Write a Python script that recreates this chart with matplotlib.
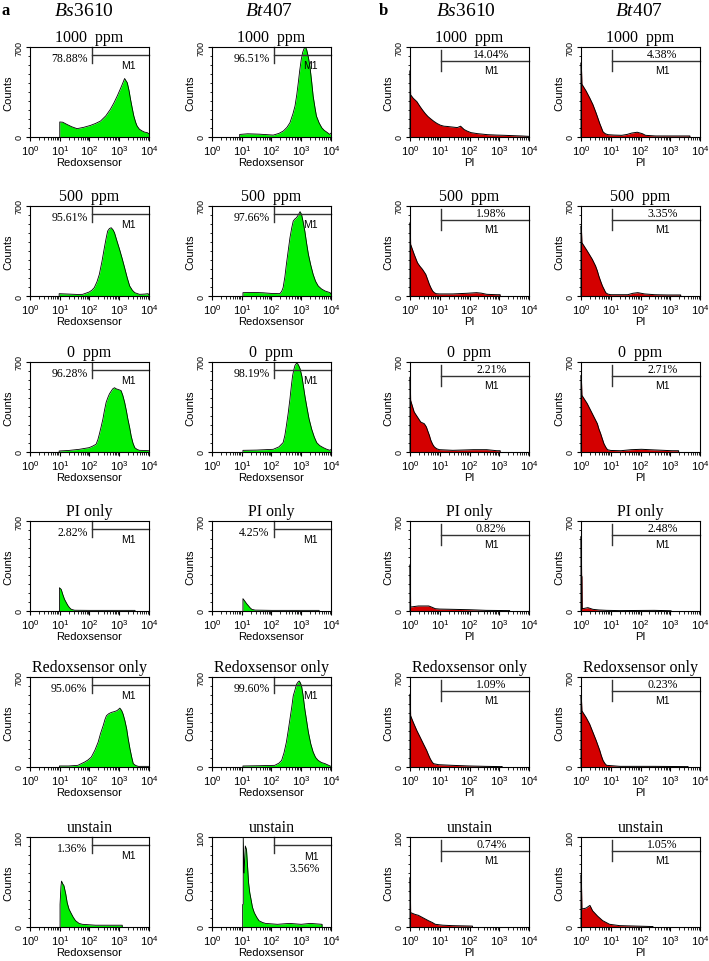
import numpy as np
import matplotlib
matplotlib.use("Agg")
import matplotlib.pyplot as plt
from matplotlib.ticker import LogLocator, MultipleLocator, NullFormatter

plt.rcParams["font.family"] = "Liberation Sans"
plt.rcParams["mathtext.fontset"] = "custom"
plt.rcParams["mathtext.rm"] = "Liberation Sans"
plt.rcParams["mathtext.it"] = "Liberation Serif:italic"

# ---- panel a : Redoxsensor histograms (log10 channel, counts) ----
bs_1000_redox_log = [1.0, 1.0, 1.1, 1.24, 1.4, 1.58, 1.8, 2.03, 2.2, 2.37, 2.55, 2.7, 2.82, 2.93, 3.02, 3.1,
                     3.18, 3.27, 3.33, 3.38, 3.44, 3.49, 3.55, 3.6, 3.68, 3.77, 3.85, 3.94, 4.0]
bs_1000_redox_cnt = [0, 117, 115, 98, 80, 65, 75, 90, 105, 124, 165, 215, 265, 318, 365, 409,
                     455, 422, 360, 292, 220, 163, 115, 85, 60, 47, 38, 34, 25]
bt_1000_redox_log = [0.93, 0.93, 1.2, 1.6, 2.06, 2.25, 2.4, 2.52, 2.62, 2.72, 2.79, 2.85, 2.9, 2.95, 3.0, 3.05,
                     3.09, 3.14, 3.18, 3.24, 3.29, 3.35, 3.4, 3.46, 3.51, 3.6, 3.69, 3.77, 3.85, 3.96, 4.0]
bt_1000_redox_cnt = [0, 20, 25, 22, 15, 28, 47, 75, 111, 180, 241, 330, 422, 520, 603, 660,
                     686, 700, 681, 620, 552, 430, 318, 230, 163, 110, 72, 52, 39, 20, 30]

bs_500_redox_log = [0.98, 0.98, 1.3, 1.6, 1.77, 1.99, 2.08, 2.16, 2.25, 2.33, 2.42, 2.5, 2.56, 2.61, 2.67,
                    2.73, 2.79, 2.84, 2.92, 3.01, 3.1, 3.18, 3.27, 3.35, 3.44, 3.52, 3.68, 3.85, 3.97, 4.0]
bs_500_redox_cnt = [0, 18, 15, 12, 13, 31, 45, 65, 110, 168, 270, 376, 450, 505, 525,
                    531, 515, 492, 430, 363, 290, 220, 140, 78, 45, 26, 13, 15, 18, 10]
bt_500_redox_log = [1.04, 1.04, 1.4, 1.72, 2.0, 2.28, 2.34, 2.39, 2.45, 2.5, 2.56, 2.62, 2.68, 2.73, 2.79,
                    2.84, 2.9, 2.96, 3.01, 3.06, 3.12, 3.18, 3.24, 3.32, 3.4, 3.48, 3.57, 3.68, 3.8, 3.97, 4.0]
bt_500_redox_cnt = [0, 26, 28, 25, 20, 18, 35, 65, 150, 246, 350, 453, 530, 583, 600,
                    609, 630, 656, 635, 580, 505, 410, 324, 240, 168, 115, 78, 55, 39, 26, 15]

bs_0_redox_log = [0.98, 0.98, 1.3, 1.66, 1.99, 2.1, 2.22, 2.28, 2.33, 2.39, 2.45, 2.5, 2.56, 2.62, 2.67, 2.72,
                  2.78, 2.84, 2.9, 2.98, 3.06, 3.12, 3.18, 3.24, 3.29, 3.35, 3.4, 3.46, 3.52, 3.6, 3.68, 3.85, 4.0]
bs_0_redox_cnt = [0, 8, 12, 21, 34, 45, 60, 95, 138, 195, 256, 320, 387, 425, 452, 470,
                  491, 500, 491, 485, 478, 440, 387, 320, 256, 190, 125, 70, 34, 20, 13, 12, 10]
bt_0_redox_log = [1.04, 1.04, 1.5, 2.06, 2.25, 2.39, 2.45, 2.5, 2.56, 2.62, 2.67, 2.71, 2.75, 2.79, 2.84, 2.88,
                  2.92, 2.96, 3.02, 3.07, 3.12, 3.18, 3.26, 3.35, 3.44, 3.52, 3.62, 3.74, 3.85, 3.97, 4.0]
bt_0_redox_cnt = [0, 13, 15, 21, 40, 73, 130, 204, 300, 413, 520, 595, 640, 674, 690, 687,
                  670, 648, 590, 517, 440, 360, 260, 178, 115, 73, 50, 34, 22, 13, 20]

bs_pionly_redox_log = [0.99, 0.99, 1.05, 1.1, 1.16, 1.22, 1.27, 1.33, 1.39, 1.5, 2.0, 2.5, 3.0, 3.53, 3.53]
bs_pionly_redox_cnt = [0, 181, 168, 130, 91, 65, 44, 25, 13, 6, 5, 5, 5, 5, 0]
bt_pionly_redox_log = [1.04, 1.04, 1.1, 1.16, 1.23, 1.28, 1.34, 1.45, 2.0, 2.5, 3.0, 3.6, 3.6]
bt_pionly_redox_cnt = [0, 96, 78, 58, 39, 25, 13, 7, 5, 5, 5, 5, 0]

bs_rsonly_redox_log = [0.99, 0.99, 1.3, 1.61, 1.84, 1.95, 2.06, 2.18, 2.29, 2.37, 2.46, 2.52, 2.57, 2.65, 2.74,
                       2.82, 2.91, 2.96, 3.02, 3.08, 3.13, 3.19, 3.25, 3.3, 3.36, 3.42, 3.47, 3.55, 3.64, 4.0]
bs_rsonly_redox_cnt = [0, 8, 8, 13, 39, 55, 77, 130, 193, 260, 322, 370, 399, 415, 425,
                       430, 437, 445, 458, 440, 411, 360, 296, 220, 142, 75, 26, 12, 5, 5]
bt_rsonly_redox_log = [1.04, 1.04, 1.6, 2.11, 2.25, 2.34, 2.42, 2.5, 2.56, 2.62, 2.68, 2.73, 2.79, 2.84, 2.89,
                       2.93, 2.97, 3.01, 3.06, 3.12, 3.18, 3.24, 3.32, 3.4, 3.48, 3.57, 3.68, 3.8, 3.97, 4.0]
bt_rsonly_redox_cnt = [0, 8, 10, 13, 30, 51, 110, 193, 280, 373, 465, 553, 600, 643, 660,
                       669, 655, 630, 560, 450, 360, 270, 180, 116, 75, 51, 35, 26, 8, 5]

bs_unstain_redox_log = [1.01, 1.01, 1.04, 1.06, 1.1, 1.14, 1.2, 1.25, 1.31, 1.37, 1.45, 1.53, 1.65, 1.76,
                        2.2, 2.6, 3.1, 3.1]
bs_unstain_redox_cnt = [0, 25, 45, 51, 48, 46, 37, 27, 20, 16, 11, 7, 4, 3, 2, 2, 2, 0]
bt_unstain_redox_log = [1.03, 1.03, 1.05, 1.05, 1.08, 1.12, 1.16, 1.2, 1.23, 1.27, 1.31, 1.36, 1.42, 1.5,
                        1.58, 1.7, 1.8, 2.2, 2.6, 3.0, 3.3, 3.7, 3.7]
bt_unstain_redox_cnt = [0, 25, 25, 100, 60, 90, 86, 65, 49, 38, 31, 22, 16, 11, 7, 5, 4, 3, 4, 3, 4, 3, 0]

# ---- panel b : PI histograms ----
bs_1000_pi_log = [0.0, 0.0, 0.01, 0.02, 0.11, 0.23, 0.34, 0.42, 0.51, 0.6, 0.68, 0.8, 0.91, 1.02, 1.14, 1.25,
                  1.36, 1.48, 1.59, 1.7, 1.82, 1.93, 2.05, 2.27, 2.61, 2.9, 3.18, 3.5, 3.75, 4.0]
bs_1000_pi_cnt = [0, 516, 516, 328, 301, 275, 236, 210, 183, 160, 144, 122, 105, 92, 84, 82,
                  79, 76, 73, 84, 58, 45, 34, 26, 18, 15, 13, 10, 8, 5]
bt_1000_pi_log = [0.0, 0.0, 0.01, 0.03, 0.17, 0.29, 0.4, 0.51, 0.57, 0.63, 0.69, 0.74, 0.82, 0.91, 1.1, 1.37,
                  1.55, 1.71, 1.89, 2.06, 2.17, 2.5, 3.0, 3.4, 3.66, 3.66]
bt_1000_pi_cnt = [0, 577, 577, 411, 358, 305, 252, 185, 145, 105, 70, 40, 25, 18, 15, 13,
                  20, 31, 37, 26, 13, 8, 8, 8, 8, 0]

bs_500_pi_log = [0.0, 0.0, 0.01, 0.02, 0.14, 0.25, 0.33, 0.42, 0.53, 0.59, 0.65, 0.7, 0.76, 0.82, 0.88, 1.0,
                 1.44, 1.9, 2.1, 2.24, 2.4, 2.58, 2.92, 3.03, 3.03]
bs_500_pi_cnt = [0, 570, 570, 402, 324, 259, 232, 207, 168, 130, 91, 65, 39, 25, 18, 16,
                 16, 21, 24, 26, 22, 13, 10, 10, 0]
bt_500_pi_log = [0.0, 0.0, 0.01, 0.03, 0.21, 0.38, 0.49, 0.55, 0.6, 0.66, 0.72, 0.78, 0.83, 0.9, 1.0, 1.57,
                 1.74, 1.91, 2.14, 2.48, 2.9, 3.28, 3.35, 3.35]
bt_500_pi_cnt = [0, 544, 544, 415, 350, 285, 233, 195, 155, 115, 78, 50, 26, 15, 10, 10,
                 21, 26, 16, 10, 8, 8, 8, 0]

bs_0_pi_log = [0.0, 0.0, 0.01, 0.02, 0.14, 0.25, 0.36, 0.48, 0.55, 0.59, 0.65, 0.7, 0.76, 0.82, 0.9, 0.99,
               1.44, 2.13, 2.58, 2.92, 3.03, 3.03]
bs_0_pi_cnt = [0, 583, 583, 402, 311, 272, 233, 220, 195, 168, 130, 91, 60, 39, 25, 18,
               13, 18, 18, 10, 10, 0]
bt_0_pi_log = [0.0, 0.0, 0.01, 0.03, 0.21, 0.38, 0.55, 0.6, 0.66, 0.72, 0.77, 0.83, 0.89, 1.0, 1.34, 1.69,
               2.03, 2.48, 3.05, 3.28, 3.28]
bt_0_pi_cnt = [0, 596, 596, 441, 376, 298, 220, 180, 143, 100, 65, 38, 18, 12, 10, 18,
               21, 16, 10, 10, 0]

bs_pionly_pi_log = [0.0, 0.0, 0.01, 0.02, 0.28, 0.63, 0.75, 0.85, 1.0, 1.42, 1.99, 2.56, 3.35, 3.35]
bs_pionly_pi_cnt = [0, 360, 360, 31, 39, 39, 28, 18, 15, 13, 10, 5, 3, 0]
bt_pionly_pi_log = [0.0, 0.0, 0.01, 0.02, 0.03, 0.04, 0.06, 0.23, 0.4, 0.6, 0.86, 1.31, 1.8, 2.46, 3.03, 3.03]
bt_pionly_pi_cnt = [0, 580, 580, 270, 270, 18, 18, 26, 13, 8, 5, 3, 4, 5, 2, 0]

bs_rsonly_pi_log = [0.0, 0.0, 0.01, 0.02, 0.11, 0.23, 0.34, 0.45, 0.56, 0.62, 0.68, 0.74, 0.79, 0.96, 1.41,
                    1.97, 2.54, 3.1, 3.1]
bs_rsonly_pi_cnt = [0, 566, 566, 399, 347, 283, 232, 180, 129, 95, 64, 40, 26, 18, 13, 8, 5, 3, 0]
bt_rsonly_pi_log = [0.0, 0.0, 0.01, 0.03, 0.17, 0.29, 0.4, 0.51, 0.63, 0.68, 0.74, 0.8, 0.86, 1.31, 2.46,
                    3.6, 3.6]
bt_rsonly_pi_cnt = [0, 553, 553, 437, 386, 334, 270, 206, 129, 90, 51, 28, 13, 5, 5, 3, 0]

bs_unstain_pi_log = [0.0, 0.0, 0.01, 0.02, 0.17, 0.28, 0.45, 0.62, 0.75, 0.85, 1.1, 1.42, 2.1, 2.1]
bs_unstain_pi_cnt = [0, 55, 55, 16, 14, 13, 10, 7, 5, 3, 2, 1.5, 1, 0]
bt_unstain_pi_log = [0.0, 0.0, 0.01, 0.03, 0.17, 0.3, 0.39, 0.56, 0.73, 0.96, 1.3, 1.86, 2.42, 2.42]
bt_unstain_pi_cnt = [0, 58, 58, 20, 21, 24, 18, 12, 7, 3, 1.5, 1, 0.5, 0]

conditions = ["1000  ppm", "500  ppm", "0  ppm", "PI only", "Redoxsensor only", "unstain"]
y_top = [700, 700, 700, 700, 700, 100]
pct_redox_bs = ["78.88%", "95.61%", "96.28%", "2.82%", "95.06%", "1.36%"]
pct_redox_bt = ["96.51%", "97.66%", "98.19%", "4.25%", "99.60%", "3.56%"]
pct_pi_bs = ["14.04%", "1.98%", "2.21%", "0.82%", "1.09%", "0.74%"]
pct_pi_bt = ["4.38%", "3.35%", "2.71%", "2.48%", "0.23%", "1.05%"]

redox_bs = [(bs_1000_redox_log, bs_1000_redox_cnt), (bs_500_redox_log, bs_500_redox_cnt),
            (bs_0_redox_log, bs_0_redox_cnt), (bs_pionly_redox_log, bs_pionly_redox_cnt),
            (bs_rsonly_redox_log, bs_rsonly_redox_cnt), (bs_unstain_redox_log, bs_unstain_redox_cnt)]
redox_bt = [(bt_1000_redox_log, bt_1000_redox_cnt), (bt_500_redox_log, bt_500_redox_cnt),
            (bt_0_redox_log, bt_0_redox_cnt), (bt_pionly_redox_log, bt_pionly_redox_cnt),
            (bt_rsonly_redox_log, bt_rsonly_redox_cnt), (bt_unstain_redox_log, bt_unstain_redox_cnt)]
pi_bs = [(bs_1000_pi_log, bs_1000_pi_cnt), (bs_500_pi_log, bs_500_pi_cnt), (bs_0_pi_log, bs_0_pi_cnt),
         (bs_pionly_pi_log, bs_pionly_pi_cnt), (bs_rsonly_pi_log, bs_rsonly_pi_cnt),
         (bs_unstain_pi_log, bs_unstain_pi_cnt)]
pi_bt = [(bt_1000_pi_log, bt_1000_pi_cnt), (bt_500_pi_log, bt_500_pi_cnt), (bt_0_pi_log, bt_0_pi_cnt),
         (bt_pionly_pi_log, bt_pionly_pi_cnt), (bt_rsonly_pi_log, bt_rsonly_pi_cnt),
         (bt_unstain_pi_log, bt_unstain_pi_cnt)]

columns = [(redox_bs, pct_redox_bs, "redox"), (redox_bt, pct_redox_bt, "redox"),
           (pi_bs, pct_pi_bs, "pi"), (pi_bt, pct_pi_bt, "pi")]

W, H = 709, 962
fig = plt.figure(figsize=(W / 100, H / 100), dpi=100)

col_left = [30, 212, 410, 581]
row_top = [48, 207, 363, 522, 678, 838]
ax_w, ax_h = 119, 90

serif = "Liberation Serif"

for c, (hists, pcts, kind) in enumerate(columns):
    for r in range(6):
        ax = fig.add_axes([col_left[c] / W, 1 - (row_top[r] + ax_h) / H, ax_w / W, ax_h / H])
        logs, cnts = hists[r]
        x = 10 ** np.array(logs)
        y = np.array(cnts, dtype=float)
        face = "#00ee00" if kind == "redox" else "#d40000"
        ax.fill_between(x, y, color=face, lw=0)
        if kind == "redox":
            ax.plot(x, y, color="black", lw=0.6)
        else:
            # first-channel pile-up sits on the left spine, so let the outline spill over it
            ax.plot(x, y, color="black", lw=0.7, clip_on=False)
        ax.set_xscale("log")
        ax.set_xlim(1, 1e4)
        ax.set_ylim(0, y_top[r])
        ax.xaxis.set_major_locator(LogLocator(base=10, numticks=10))
        ax.xaxis.set_minor_locator(LogLocator(base=10, subs=np.arange(2, 10), numticks=20))
        ax.xaxis.set_minor_formatter(NullFormatter())
        ax.set_yticks([0, y_top[r]])
        ax.yaxis.set_minor_locator(MultipleLocator(y_top[r] / 10))
        ax.tick_params(which="major", direction="out", length=3, width=0.8, pad=1.5)
        ax.tick_params(which="minor", direction="out", length=1.8, width=0.6)
        ax.tick_params(axis="x", labelsize=8)
        ax.tick_params(axis="y", labelsize=6.5, labelrotation=90)
        for lab in ax.get_yticklabels():
            lab.set_va("center")
        for sp in ax.spines.values():
            sp.set_linewidth(0.8)
        ax.set_ylabel("Counts", fontsize=8, labelpad=1)
        ax.set_xlabel("Redoxsensor" if kind == "redox" else "PI", fontsize=8, labelpad=0)
        ax.set_title(conditions[r], fontsize=11.5, family=serif, pad=4)

        tr = ax.get_xaxis_transform()
        if kind == "redox":
            g = 10 ** 2.1
            ax.plot([g, g], [0.826, 1.0], color="#333333", lw=1, transform=tr, clip_on=False)
            ax.plot([g, 1e4], [0.907, 0.907], color="#333333", lw=1, transform=tr, clip_on=False)
            if c == 1 and r == 5:
                ax.text(10 ** 3.35, 0.79, "M1", fontsize=7.5, ha="center", va="center", transform=tr)
                ax.text(10 ** 3.1, 0.66, pcts[r], fontsize=8.5, family=serif, ha="center",
                        va="center", transform=tr)
            else:
                ax.text(10 ** 3.3, 0.80, "M1", fontsize=7.5, ha="center", va="center", transform=tr)
                ax.text(10 ** 1.93, 0.875, pcts[r], fontsize=8.5, family=serif, ha="right",
                        va="center", transform=tr)
        else:
            g = 10 ** 1.03
            ax.plot([g, g], [0.738, 0.963], color="#333333", lw=1, transform=tr, clip_on=False)
            ax.plot([g, 1e4], [0.85, 0.85], color="#333333", lw=1, transform=tr, clip_on=False)
            ax.text(10 ** 2.73, 0.925, pcts[r], fontsize=8.5, family=serif, ha="center",
                    va="center", transform=tr)
            ax.text(10 ** 2.75, 0.74, "M1", fontsize=7.5, ha="center", va="center", transform=tr)

# column headers
headers = [(84, r"$\mathit{Bs}$3610"), (269, r"$\mathit{Bt}$407"),
           (466, r"$\mathit{Bs}$3610"), (639, r"$\mathit{Bt}$407")]
for xp, txt in headers:
    fig.text(xp / W, 1 - 11 / H, txt, fontsize=14, family=serif, ha="center", va="center")
fig.text(6 / W, 1 - 11 / H, "a", fontsize=12, family=serif, weight="bold", ha="center", va="center")
fig.text(383 / W, 1 - 11 / H, "b", fontsize=12, family=serif, weight="bold", ha="center", va="center")

fig.savefig("out.png", dpi=100)
